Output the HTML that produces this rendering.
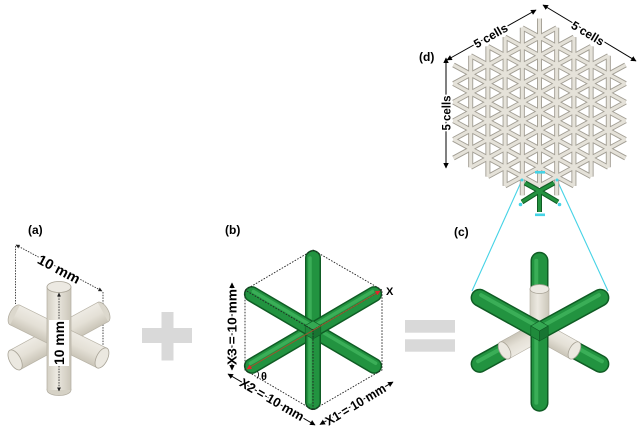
<!DOCTYPE html>
<html><head><meta charset="utf-8"><style>
html,body{margin:0;padding:0;background:#fff;}
svg{display:block;}
text{font-family:"Liberation Sans",Arial,sans-serif;font-weight:bold;fill:#000;}
</style></head><body>
<svg width="639" height="432" viewBox="0 0 639 432" xmlns="http://www.w3.org/2000/svg">
<defs>
<linearGradient id="bv" x1="0" y1="0" x2="1" y2="0">
 <stop offset="0" stop-color="#d3cfc3"/><stop offset="0.4" stop-color="#ece9e1"/><stop offset="1" stop-color="#cbc6b9"/>
</linearGradient>
<linearGradient id="bh" x1="0" y1="0" x2="0" y2="1">
 <stop offset="0" stop-color="#eeebe4"/><stop offset="0.5" stop-color="#e4e0d6"/><stop offset="1" stop-color="#cac5b8"/>
</linearGradient>
<marker id="ah" viewBox="0 0 10 10" refX="9" refY="5" markerWidth="5.5" markerHeight="5.5" orient="auto-start-reverse"><path d="M0,0L10,5L0,10z" fill="#000"/></marker>
<marker id="ahs" viewBox="0 0 10 10" refX="9" refY="5" markerWidth="4.5" markerHeight="4.5" orient="auto-start-reverse"><path d="M0,0L10,5L0,10z" fill="#222"/></marker>
<marker id="rh" viewBox="0 0 10 10" refX="9" refY="5" markerWidth="5" markerHeight="5" orient="auto-start-reverse"><path d="M0,0L10,5L0,10z" fill="#e3262b"/></marker>
</defs>

<!-- ================= (a) ================= -->
<text x="28" y="234" font-size="12">(a)</text>
<g stroke="#333" stroke-width="0.9" stroke-dasharray="1.5,1.2" fill="none">
 <line x1="15.5" y1="246" x2="15.5" y2="304"/>
 <line x1="103" y1="292" x2="103" y2="349"/>
</g>
<line x1="16" y1="245" x2="102" y2="291" stroke="#333" stroke-width="0.9" stroke-dasharray="1.5,1.2" marker-start="url(#ahs)" marker-end="url(#ahs)"/>
<text transform="translate(59,269) rotate(28)" y="5" text-anchor="middle" font-size="14" stroke="#fff" stroke-width="3" paint-order="stroke" textLength="46" lengthAdjust="spacingAndGlyphs">10 mm</text>

<!-- cylinder LL-UR -->
<g transform="translate(59,336) rotate(-28.6)">
 <ellipse cx="50" cy="0" rx="5.5" ry="11" fill="#dcd8cd" stroke="#aea99c" stroke-width="0.7"/>
 <rect x="-50" y="-11" width="100" height="22" fill="url(#bh)"/>
 <line x1="-50" y1="-11" x2="50" y2="-11" stroke="#b8b3a6" stroke-width="0.7"/>
 <line x1="-50" y1="11" x2="50" y2="11" stroke="#b8b3a6" stroke-width="0.7"/>
 <ellipse cx="-50" cy="0" rx="5.5" ry="11" fill="#ebe8e0" stroke="#a8a396" stroke-width="0.8"/>
</g>
<!-- cylinder UL-LR -->
<g transform="translate(58.5,336.5) rotate(26.3)">
 <ellipse cx="-48.5" cy="0" rx="5.5" ry="11" fill="#dcd8cd" stroke="#aea99c" stroke-width="0.7"/>
 <rect x="-48.5" y="-11" width="97" height="22" fill="url(#bh)"/>
 <line x1="-48.5" y1="-11" x2="48.5" y2="-11" stroke="#b8b3a6" stroke-width="0.7"/>
 <line x1="-48.5" y1="11" x2="48.5" y2="11" stroke="#b8b3a6" stroke-width="0.7"/>
 <ellipse cx="48.5" cy="0" rx="5.5" ry="11" fill="#ebe8e0" stroke="#a8a396" stroke-width="0.8"/>
</g>
<!-- vertical cylinder -->
<ellipse cx="59" cy="390" rx="12" ry="5.5" fill="#d6d2c6" stroke="#aea99c" stroke-width="0.7"/>
<rect x="47" y="287" width="24" height="103" fill="url(#bv)"/>
<line x1="47" y1="287" x2="47" y2="390" stroke="#b3aea1" stroke-width="0.7"/>
<line x1="71" y1="287" x2="71" y2="390" stroke="#b3aea1" stroke-width="0.7"/>
<ellipse cx="59" cy="287" rx="12" ry="5.5" fill="#ece9e2" stroke="#a8a396" stroke-width="0.8"/>
<line x1="59" y1="293" x2="59" y2="391" stroke="#333" stroke-width="0.9" stroke-dasharray="1.5,1.2" marker-start="url(#ahs)" marker-end="url(#ahs)"/>
<rect x="49" y="320" width="20" height="46" fill="#fff"/>
<text transform="translate(59,343) rotate(-90)" y="5" text-anchor="middle" font-size="14" textLength="44" lengthAdjust="spacingAndGlyphs">10 mm</text>

<!-- plus -->
<rect x="142" y="328" width="50" height="15" fill="#d9d9d9"/>
<rect x="161.5" y="312" width="12" height="48.5" fill="#d9d9d9"/>

<!-- ================= (b) ================= -->
<text x="225" y="234" font-size="12">(b)</text>
<g stroke-linecap="round">
 <line x1="313" y1="330" x2="313" y2="258" stroke="#0f5c24" stroke-width="16"/>
 <line x1="313" y1="330" x2="313" y2="258" stroke="#229340" stroke-width="13"/>
 <line x1="310" y1="330" x2="310" y2="258" stroke="#3aae57" stroke-width="3.5"/>
 <line x1="313" y1="330" x2="251.9" y2="365.9" stroke="#0f5c24" stroke-width="16"/>
 <line x1="313" y1="330" x2="251.9" y2="365.9" stroke="#229340" stroke-width="13"/>
 <line x1="311.5" y1="327.4" x2="250.4" y2="363.3" stroke="#3aae57" stroke-width="3.5"/>
 <line x1="313" y1="330" x2="374.1" y2="365.9" stroke="#0f5c24" stroke-width="16"/>
 <line x1="313" y1="330" x2="374.1" y2="365.9" stroke="#229340" stroke-width="13"/>
 <line x1="314.5" y1="327.4" x2="375.6" y2="363.3" stroke="#3aae57" stroke-width="3.5"/>
 <line x1="313" y1="330" x2="313" y2="402" stroke="#0f5c24" stroke-width="16"/>
 <line x1="313" y1="330" x2="313" y2="402" stroke="#229340" stroke-width="13"/>
 <line x1="310" y1="330" x2="310" y2="402" stroke="#3aae57" stroke-width="3.5"/>
 <line x1="313" y1="330" x2="374.1" y2="294.1" stroke="#0f5c24" stroke-width="16"/>
 <line x1="313" y1="330" x2="374.1" y2="294.1" stroke="#229340" stroke-width="13"/>
 <line x1="311.5" y1="327.4" x2="372.6" y2="291.5" stroke="#3aae57" stroke-width="3.5"/>
 <line x1="313" y1="330" x2="251.9" y2="294.1" stroke="#0f5c24" stroke-width="16"/>
 <line x1="313" y1="330" x2="251.9" y2="294.1" stroke="#229340" stroke-width="13"/>
 <line x1="314.5" y1="327.4" x2="253.4" y2="291.5" stroke="#3aae57" stroke-width="3.5"/>
</g>
<g stroke="#0f5c24" stroke-width="0.6">
 <path d="M313 321L320.8 325.5L313 330L305.2 325.5Z" fill="#34a852"/>
 <path d="M305.2 325.5L313 330L313 339L305.2 334.5Z" fill="#1f8a3b"/>
 <path d="M313 330L320.8 325.5L320.8 334.5L313 339Z" fill="#187532"/>
</g>
<path d="M313 250L382 290L382 370L313 410L245 370L245 290Z M313 330L245 290 M313 330L382 290 M313 330L313 410" fill="none" stroke="#222" stroke-width="0.9" stroke-dasharray="1.6,1.4"/>
<line x1="247" y1="369" x2="380" y2="291" stroke="#a0522d" stroke-width="1" marker-start="url(#rh)" marker-end="url(#rh)"/>
<text x="386" y="295" font-size="11">X</text>
<path d="M257.5 371.5 Q260 375 257 378.5" stroke="#000" fill="none" stroke-width="0.8"/>
<text x="261" y="380" font-size="11" font-weight="normal">θ</text>
<line x1="232" y1="283" x2="232" y2="370" stroke="#000" stroke-width="1" marker-start="url(#ah)" marker-end="url(#ah)"/>
<text transform="translate(232,327) rotate(-90)" y="4.5" text-anchor="middle" font-size="13" stroke="#fff" stroke-width="3" paint-order="stroke" textLength="76" lengthAdjust="spacingAndGlyphs">X3 = 10 mm</text>
<line x1="228" y1="374" x2="315" y2="425" stroke="#000" stroke-width="1" marker-start="url(#ah)" marker-end="url(#ah)"/>
<text transform="translate(272,399.5) rotate(30)" y="4.5" text-anchor="middle" font-size="13" stroke="#fff" stroke-width="3" paint-order="stroke" textLength="72" lengthAdjust="spacingAndGlyphs">X2 = 10 mm</text>
<line x1="320" y1="424.5" x2="393" y2="382" stroke="#000" stroke-width="1" marker-start="url(#ah)" marker-end="url(#ah)"/>
<text transform="translate(355.5,404.5) rotate(-31)" y="4.5" text-anchor="middle" font-size="13" stroke="#fff" stroke-width="3" paint-order="stroke" textLength="68" lengthAdjust="spacingAndGlyphs">X1 = 10 mm</text>

<!-- equals -->
<rect x="405" y="320" width="50" height="12.7" fill="#d9d9d9"/>
<rect x="405" y="339.3" width="50" height="12.4" fill="#d9d9d9"/>

<!-- ================= (c) ================= -->
<text x="454" y="236" font-size="12">(c)</text>
<line x1="472" y1="291" x2="522" y2="180" stroke="#45d3e6" stroke-width="1.1"/>
<line x1="608" y1="291" x2="557" y2="180" stroke="#45d3e6" stroke-width="1.1"/>
<g stroke-linecap="round">
 <line x1="539.5" y1="331" x2="539.5" y2="260.7" stroke="#0f5c24" stroke-width="18"/>
 <line x1="539.5" y1="331" x2="539.5" y2="260.7" stroke="#229340" stroke-width="15"/>
 <line x1="536.3" y1="331" x2="536.3" y2="260.7" stroke="#3aae57" stroke-width="4"/>
 <line x1="539.5" y1="331" x2="479.6" y2="363.9" stroke="#0f5c24" stroke-width="18"/>
 <line x1="539.5" y1="331" x2="479.6" y2="363.9" stroke="#229340" stroke-width="15"/>
 <line x1="538" y1="328.4" x2="478.1" y2="361.3" stroke="#3aae57" stroke-width="4"/>
 <line x1="539.5" y1="331" x2="600.4" y2="363.9" stroke="#0f5c24" stroke-width="18"/>
 <line x1="539.5" y1="331" x2="600.4" y2="363.9" stroke="#229340" stroke-width="15"/>
 <line x1="541" y1="328.4" x2="601.9" y2="361.3" stroke="#3aae57" stroke-width="4"/>
</g>
<rect x="530" y="289" width="19" height="42" fill="url(#bv)" stroke="#b3aea1" stroke-width="0.6"/>
<ellipse cx="539.5" cy="289" rx="9.5" ry="4.5" fill="#ece9e2" stroke="#a8a396" stroke-width="0.8"/>
<g transform="translate(539.5,331) rotate(150.9)">
 <rect x="0" y="-9.5" width="40" height="19" fill="url(#bh)" stroke="#b3aea1" stroke-width="0.6"/>
 <ellipse cx="40" cy="0" rx="5" ry="9.5" fill="#ebe8e0" stroke="#a8a396" stroke-width="0.8"/>
</g>
<g transform="translate(539.5,331) rotate(29.1)">
 <rect x="0" y="-9.5" width="40" height="19" fill="url(#bh)" stroke="#b3aea1" stroke-width="0.6"/>
 <ellipse cx="40" cy="0" rx="5" ry="9.5" fill="#ebe8e0" stroke="#a8a396" stroke-width="0.8"/>
</g>
<g stroke-linecap="round">
 <line x1="539.5" y1="331" x2="539.5" y2="402.7" stroke="#0f5c24" stroke-width="18"/>
 <line x1="539.5" y1="331" x2="539.5" y2="402.7" stroke="#229340" stroke-width="15"/>
 <line x1="536.3" y1="331" x2="536.3" y2="402.7" stroke="#3aae57" stroke-width="4"/>
 <line x1="539.5" y1="331" x2="600.4" y2="297.7" stroke="#0f5c24" stroke-width="18"/>
 <line x1="539.5" y1="331" x2="600.4" y2="297.7" stroke="#229340" stroke-width="15"/>
 <line x1="538" y1="328.4" x2="598.9" y2="295.1" stroke="#3aae57" stroke-width="4"/>
 <line x1="539.5" y1="331" x2="479.6" y2="297.7" stroke="#0f5c24" stroke-width="18"/>
 <line x1="539.5" y1="331" x2="479.6" y2="297.7" stroke="#229340" stroke-width="15"/>
 <line x1="541" y1="328.4" x2="481.1" y2="295.1" stroke="#3aae57" stroke-width="4"/>
</g>
<g stroke="#0f5c24" stroke-width="0.6">
 <path d="M539.5 321L548.2 326L539.5 331L530.8 326Z" fill="#34a852"/>
 <path d="M530.8 326L539.5 331L539.5 341L530.8 336Z" fill="#1f8a3b"/>
 <path d="M539.5 331L548.2 326L548.2 336L539.5 341Z" fill="#187532"/>
</g>

<!-- ================= (d) ================= -->
<text x="419" y="61" font-size="12">(d)</text>
<g fill="none" stroke-linecap="butt">
 <path stroke="#a19d93" stroke-width="5" d="M470.7 55.7V167.3 M487.9 46.4V176.6 M505.1 37.1V185.9 M522.3 27.8V195.2 M539.5 18.5V185.9 M556.7 27.8V195.2 M573.9 37.1V185.9 M591.1 46.4V176.6 M608.3 55.7V167.3
 M522.3 27.8L625.5 83.6 M505.1 37.1L625.5 102.2 M487.9 46.4L625.5 120.8 M470.7 55.7L625.5 139.4 M453.5 65L625.5 158 M453.5 83.6L608.3 167.3 M453.5 102.2L591.1 176.6 M453.5 120.8L573.9 185.9 M453.5 139.4L539.5 185.9
 M556.7 27.8L453.5 83.6 M573.9 37.1L453.5 102.2 M591.1 46.4L453.5 120.8 M608.3 55.7L453.5 139.4 M625.5 65L453.5 158 M625.5 83.6L470.7 167.3 M625.5 102.2L487.9 176.6 M625.5 120.8L505.1 185.9 M625.5 139.4L539.5 185.9"/>
 <path stroke="#e5e2d9" stroke-width="3.2" d="M470.7 55.7V167.3 M487.9 46.4V176.6 M505.1 37.1V185.9 M522.3 27.8V195.2 M539.5 18.5V185.9 M556.7 27.8V195.2 M573.9 37.1V185.9 M591.1 46.4V176.6 M608.3 55.7V167.3
 M522.3 27.8L625.5 83.6 M505.1 37.1L625.5 102.2 M487.9 46.4L625.5 120.8 M470.7 55.7L625.5 139.4 M453.5 65L625.5 158 M453.5 83.6L608.3 167.3 M453.5 102.2L591.1 176.6 M453.5 120.8L573.9 185.9 M453.5 139.4L539.5 185.9
 M556.7 27.8L453.5 83.6 M573.9 37.1L453.5 102.2 M591.1 46.4L453.5 120.8 M608.3 55.7L453.5 139.4 M625.5 65L453.5 158 M625.5 83.6L470.7 167.3 M625.5 102.2L487.9 176.6 M625.5 120.8L505.1 185.9 M625.5 139.4L539.5 185.9"/>
</g>
<g stroke-linecap="butt">
 <path d="M525 183L539.5 191L554 183 M539.5 191V212 M539.5 191L522 202 M539.5 191L558 202" fill="none" stroke="#0f5c24" stroke-width="5"/>
 <path d="M525 183L539.5 191L554 183 M539.5 191V212 M539.5 191L522 202 M539.5 191L558 202" fill="none" stroke="#23923f" stroke-width="3"/>
</g>
<g fill="#45d3e6">
 <rect x="535" y="171" width="10" height="2.6"/>
 <rect x="535" y="213.5" width="10" height="2.6"/>
 <circle cx="520.5" cy="204.5" r="1.8"/>
 <circle cx="559.5" cy="204.5" r="1.8"/>
 <circle cx="522" cy="180" r="1.5"/>
 <circle cx="557" cy="180" r="1.5"/>
</g>
<line x1="447" y1="60" x2="536" y2="10" stroke="#000" stroke-width="1" marker-start="url(#ah)" marker-end="url(#ah)"/>
<text transform="translate(490.5,35.5) rotate(-29.6)" y="4.5" text-anchor="middle" font-size="12" stroke="#fff" stroke-width="3" paint-order="stroke" textLength="37" lengthAdjust="spacingAndGlyphs">5 cells</text>
<line x1="543" y1="5" x2="636" y2="61" stroke="#000" stroke-width="1" marker-start="url(#ah)" marker-end="url(#ah)"/>
<text transform="translate(588,33) rotate(31)" y="4.5" text-anchor="middle" font-size="12" stroke="#fff" stroke-width="3" paint-order="stroke" textLength="36" lengthAdjust="spacingAndGlyphs">5 cells</text>
<line x1="446" y1="58" x2="446" y2="168" stroke="#000" stroke-width="1" marker-start="url(#ah)" marker-end="url(#ah)"/>
<text transform="translate(446,113) rotate(-90)" y="4.5" text-anchor="middle" font-size="12" stroke="#fff" stroke-width="3" paint-order="stroke" textLength="35" lengthAdjust="spacingAndGlyphs">5 cells</text>
</svg>
</body></html>
